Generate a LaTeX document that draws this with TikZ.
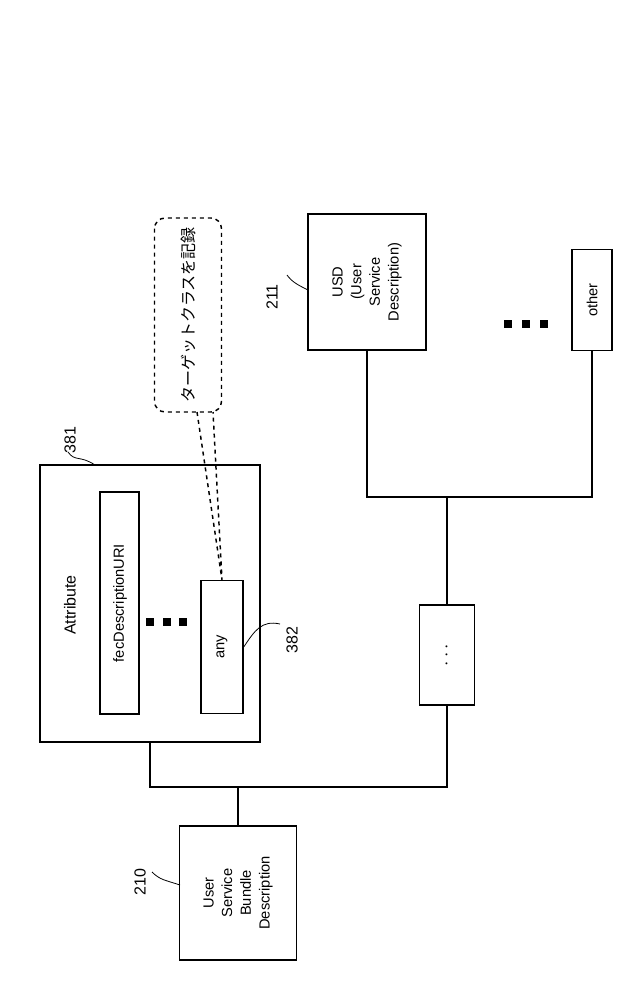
\documentclass[tikz,border=0pt]{standalone}
\usepackage{fontspec}
\setmainfont{Liberation Sans}
\newfontfamily\cjk{Noto Sans CJK JP}
\usetikzlibrary{positioning}
\tikzset{
  abox/.style={draw, line width=1.1pt, rotate=90, align=center, font=\fontsize{11}{14}\selectfont},
  tree/.style={draw, line width=1.1pt},
  refno/.style={rotate=90, font=\fontsize{12}{14}\selectfont},
  squig/.style={draw, line width=0.6pt},
}
\begin{document}
\begin{tikzpicture}[x=0.75pt, y=-0.75pt]
  \useasboundingbox (0,0) rectangle (640,1005);
  % outer attribute box and its contents
  \draw[line width=1.1pt] (40,465) rectangle (260,742);
  \node[refno] (attr) at (70,605) {Attribute};
  \draw[line width=1.1pt] (100,492) rectangle (139,714);
  \node[refno, font=\fontsize{11}{14}\selectfont] (fec) at (120,603) {fecDescriptionURI};
  \node[abox, minimum width=133pt*0.75, minimum height=42pt*0.75] (any) at (222,647) {any};
  \foreach \xx in {150,167,183} \fill (\xx-4,618) rectangle (\xx+4,626);
  % speech bubble
  \node[draw, dashed, line width=1.1pt, rounded corners=8pt, rotate=90,
        minimum width=194pt*0.75, minimum height=67pt*0.75, font=\cjk\fontsize{12}{14}\selectfont]
        (note) at (188,315) {ターゲットクラスを記録};
  \coordinate (t1) at (197,412);
  \coordinate (t2) at (213,412);
  \draw[dashed, line width=1.1pt] (t1) -- (any.east -| 222,581) -- (t2);
  % USD side
  \node[abox, minimum width=136pt*0.75, minimum height=118pt*0.75] (usd) at (367,282)
       {USD\\(User\\Service\\Description)};
  \node[abox, minimum width=101pt*0.75, minimum height=40pt*0.75] (other) at (592,300) {other};
  \foreach \yy in {508,526,544} \fill (\yy-4,320) rectangle (\yy+4,328);
  \node[abox, minimum width=100pt*0.75, minimum height=55pt*0.75, font=\fontsize{14}{14}\selectfont] (etc) at (447,655) {$\cdots$};
  \node[abox, minimum width=134pt*0.75, minimum height=117pt*0.75] (usbd) at (238,893)
       {User\\Service\\Bundle\\Description};
  % tree connectors
  \coordinate (ja) at (447,497);
  \coordinate (jb) at (238,787);
  \draw[tree] (usd.west) |- (ja) -| (other.west);
  \draw[tree] (ja) -- (etc.east);
  \draw[tree] (150,742) |- (jb) -| (etc.west);
  \draw[tree] (jb) -- (usbd.east);
  % reference numbers
  \node[refno] (n381) at (70,440) {381};
  \draw[squig] (95,465) .. controls (80,455) and (75,462) .. (68,452);
  \node[refno] (n382) at (292,640) {382};
  \draw[squig] (any.south) .. controls (255,630) and (262,620) .. (280,624);
  \node[refno] (n211) at (272,297) {211};
  \draw[squig] (308,290) .. controls (298,285) and (292,282) .. (287,275);
  \node[refno] (n210) at (140,882) {210};
  \draw[squig] (180,885) .. controls (165,880) and (160,880) .. (152,872);
\end{tikzpicture}
\end{document}
